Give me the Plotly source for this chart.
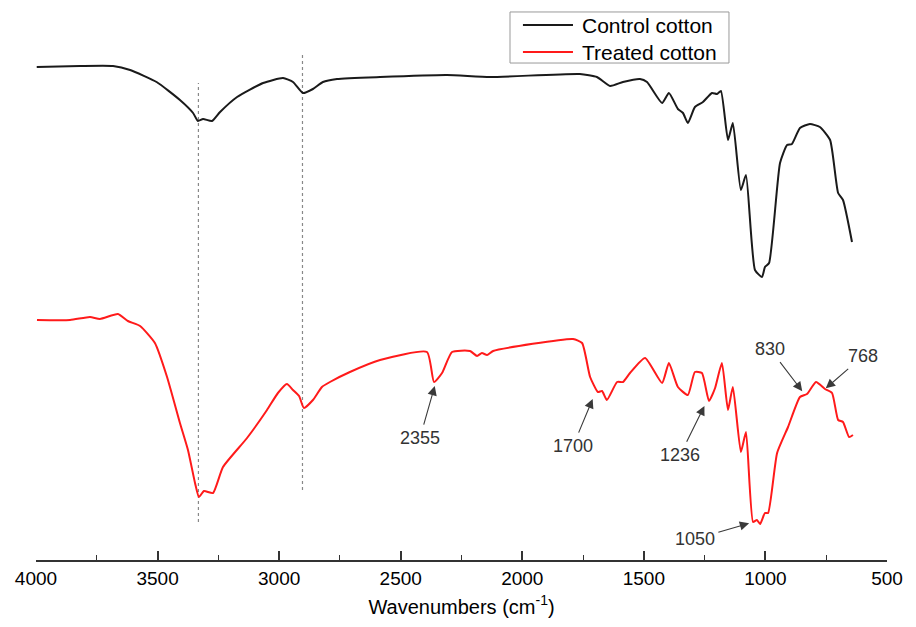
import plotly.graph_objects as go

# Control cotton (wavenumber cm-1, transmittance a.u.)
control_wn = [3997, 3819, 3683, 3613, 3504, 3408, 3354, 3334, 3313, 3276, 3243, 3173, 3066, 2984,
              2943, 2902, 2861, 2820, 2762, 2585, 2310, 2133, 1763, 1693, 1639, 1586, 1516, 1487,
              1425, 1397, 1360, 1339, 1319, 1290, 1257, 1220, 1199, 1183, 1154, 1134, 1101, 1080,
              1043, 1014, 1002, 985, 940, 911, 891, 858, 817, 776, 734, 701, 681, 644]
control_t = [493, 494, 494, 490, 478, 460, 447, 439, 441, 439, 448, 463, 477, 482,
             478, 467, 471, 478, 481, 483, 485, 483, 486, 483, 474, 478, 481, 478,
             457, 467, 451, 447, 437, 453, 458, 467, 466, 469, 420, 437, 370, 385,
             290, 283, 293, 297, 397, 415, 416, 432, 436, 433, 420, 367, 360, 318]

# Treated cotton
treated_wn = [3996, 3860, 3778, 3737, 3663, 3622, 3572, 3511, 3461, 3408, 3375, 3346, 3330, 3309,
              3272, 3231, 3132, 3050, 3005, 2968, 2943, 2918, 2898, 2861, 2824, 2791, 2709, 2585, 2392,
              2363, 2330, 2289, 2215, 2186, 2166, 2145, 2120, 1791, 1754, 1721, 1689, 1672, 1652,
              1610, 1586, 1557, 1495, 1425, 1397, 1360, 1319, 1290, 1261, 1232, 1207, 1179, 1154,
              1134, 1101, 1080, 1051, 1035, 1022, 1002, 989, 952, 907, 858, 829, 792, 755,
              726, 701, 681, 656, 640]
treated_t = [240, 240, 243, 241, 246, 239, 234, 217, 183, 137, 110, 77, 63, 69,
             67, 93, 122, 150, 167, 176, 170, 164, 152, 160, 173, 178, 188, 200, 208,
             178, 187, 208, 209, 204, 207, 205, 209, 221, 217, 183, 168, 169, 160,
             178, 178, 187, 202, 177, 197, 173, 165, 188, 187, 159, 172, 197, 150,
             173, 108, 128, 38, 40, 36, 47, 47, 107, 133, 163, 166, 178, 171,
             167, 140, 138, 123, 125]

series_names = ["Control cotton", "Treated cotton"]
series_colors = ["#1a1a1a", "#ff1a1a"]

# Peak labels
peak_labels = ["2355", "1700", "1236", "1050", "830", "768"]
peak_wn = [2359, 1709, 1249, 1063, 846, 755]
peak_t = [175, 162, 155, 37, 168, 171]
label_wn = [2421, 1791, 1351, 1290, 981, 599]
label_t = [122, 114, 105, 21, 211, 204]

# Dashed reference lines
ref_wn = [3332, 2904]
ref_t0 = [38, 70]
ref_t1 = [477, 508]

xtick_vals = [4000, 3500, 3000, 2500, 2000, 1500, 1000, 500]

FONT = "Liberation Sans, Arial"

fig = go.Figure()
for wn, t, name, col in zip([control_wn, treated_wn], [control_t, treated_t], series_names, series_colors):
    fig.add_trace(go.Scatter(x=wn, y=t, mode="lines", name=name, showlegend=False,
                             line=dict(color=col, width=2, shape="spline", smoothing=0.5)))

for wn, a, b in zip(ref_wn, ref_t0, ref_t1):
    fig.add_shape(type="line", x0=wn, x1=wn, y0=a, y1=b, xref="x", yref="y",
                  line=dict(color="#888888", width=1.2, dash="dot"), layer="below")

for lab, px, py, lx, ly in zip(peak_labels, peak_wn, peak_t, label_wn, label_t):
    fig.add_annotation(x=px, y=py, ax=lx, ay=ly, axref="x", ayref="y", xref="x", yref="y",
                       text=lab, showarrow=True, arrowhead=2, arrowsize=1.7, arrowwidth=1.1,
                       arrowcolor="#3a3a3a", standoff=1, startstandoff=2,
                       font=dict(family=FONT, size=18, color="#333333"))

# Legend box (paper coordinates)
fig.add_shape(type="rect", xref="paper", yref="paper", x0=0.557, x1=0.8143, y0=0.9036, y1=0.9964,
              line=dict(color="#999999", width=1), fillcolor="rgba(255,255,255,0)")
legend_rows = [0.9727, 0.9236]
for name, col, yy in zip(series_names, series_colors, legend_rows):
    fig.add_shape(type="line", xref="paper", yref="paper", x0=0.5722, x1=0.6310, y0=yy, y1=yy,
                  line=dict(color=col, width=2))
    fig.add_annotation(xref="paper", yref="paper", x=0.6392, y=yy, xanchor="left", yanchor="middle",
                       text=name, showarrow=False, font=dict(family=FONT, size=21, color="black"))

fig.update_layout(
    width=916, height=627,
    margin=dict(l=36, r=29, t=10, b=67),
    paper_bgcolor="white", plot_bgcolor="white",
    font=dict(family=FONT, color="black"),
    showlegend=False,
    xaxis=dict(range=[4000, 500], tickvals=xtick_vals, ticks="inside", ticklen=9,
               tickwidth=1.5, tickcolor="#333333", showline=True, linecolor="#333333",
               linewidth=1.5, showgrid=False, zeroline=False,
               tickfont=dict(size=19, color="black"),
               minor=dict(dtick=250, ticks="inside", ticklen=5, tickwidth=1.2, tickcolor="#333333"),
               title=dict(text="Wavenumbers (cm<sup>-1</sup>)", font=dict(size=20, color="black"),
                          standoff=12)),
    yaxis=dict(range=[0, 550], visible=False),
)

fig.write_html("out.html")
